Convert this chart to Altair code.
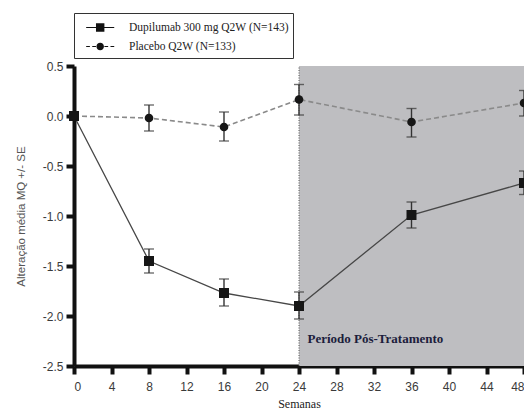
import altair as alt
import pandas as pd

weeks = [0, 8, 16, 24, 36, 48]
series_names = ["Dupilumab 300 mg Q2W (N=143)", "Placebo Q2W (N=133)"]
dupi_mean = [0.0, -1.45, -1.77, -1.90, -0.99, -0.67]
dupi_hi = [0.0, -1.33, -1.63, -1.76, -0.86, -0.55]
dupi_lo = [0.0, -1.57, -1.90, -2.03, -1.12, -0.785]
plac_mean = [0.0, -0.02, -0.11, 0.165, -0.06, 0.13]
plac_hi = [0.0, 0.11, 0.04, 0.315, 0.075, 0.255]
plac_lo = [0.0, -0.15, -0.25, 0.01, -0.21, 0.0]

post_start, post_end = 24, 48
y_min, y_max = -2.5, 0.5
x_ticks = list(range(0, 49, 4))
y_ticks = [-2.5, -2.0, -1.5, -1.0, -0.5, 0.0, 0.5]
x_title = "Semanas"
y_title = "Alteração média MQ +/- SE"
period_label = "Período Pós-Tratamento"
period_x, period_y = 24.9, -2.225

rows = []
for w, m, lo, hi in zip(weeks, dupi_mean, dupi_lo, dupi_hi):
    rows.append(dict(week=w, value=m, lo=lo, hi=hi, series=series_names[0]))
for w, m, lo, hi in zip(weeks, plac_mean, plac_lo, plac_hi):
    rows.append(dict(week=w, value=m, lo=lo, hi=hi, series=series_names[1]))
df = pd.DataFrame(rows)

xscale = alt.Scale(domain=[0, 48], nice=False, zero=False)
yscale = alt.Scale(domain=[y_min, y_max], nice=False, zero=False)

x_axis = alt.Axis(values=x_ticks, title=x_title, format="d", labelOverlap=False,
                  titleFont="Liberation Serif", titleFontSize=12,
                  titleFontWeight="normal", titleColor="#222",
                  titlePadding=6, labelPadding=7)
y_axis = alt.Axis(values=y_ticks, title=y_title, labelOverlap=False,
                  labelExpr="(datum.value < 0 ? '-' : '') + format(abs(datum.value), '.1f')",
                  titleFont="Liberation Sans Narrow, Liberation Sans", titleFontSize=11.5,
                  titleFontWeight="normal", titleColor="#555",
                  titlePadding=16, labelPadding=3)


def X(field):
    return alt.X(field, scale=xscale, axis=x_axis, title=x_title)


def Y(field):
    return alt.Y(field, scale=yscale, axis=y_axis, title=y_title)


base = alt.Chart(df)

region = alt.Chart(pd.DataFrame({"x": [post_start], "x2": [post_end],
                                 "y": [y_min], "y2": [y_max]})).mark_rect(
    color="#bebec1").encode(x=X("x:Q"), x2="x2:Q", y=Y("y:Q"), y2="y2:Q")

divider = alt.Chart(pd.DataFrame({"x": [post_start], "y": [y_min], "y2": [y_max]})).mark_rule(
    color="#555", strokeDash=[1, 1.5], strokeWidth=1).encode(
    x=X("x:Q"), y=Y("y:Q"), y2="y2:Q")

dupi = base.transform_filter(alt.datum.series == series_names[0])
plac = base.transform_filter(alt.datum.series == series_names[1])

dupi_line = dupi.mark_line(color="#474747", strokeWidth=1.3).encode(x=X("week:Q"), y=Y("value:Q"))
plac_line = plac.mark_line(color="#8a8a8a", strokeWidth=1.6, strokeDash=[5, 3]).encode(
    x=X("week:Q"), y=Y("value:Q"))

err = base.transform_filter(alt.datum.week > 0).mark_errorbar(
    ticks=alt.MarkConfig(size=10), thickness=1.4, color="#333").encode(
    x=X("week:Q"), y=Y("lo:Q"), y2="hi:Q")

dupi_pts = dupi.mark_point(shape="square", filled=True, size=100, color="#161616", opacity=1).encode(
    x=X("week:Q"), y=Y("value:Q"))
plac_pts = plac.mark_point(shape="circle", filled=True, size=75, color="#161616", opacity=1).encode(
    x=X("week:Q"), y=Y("value:Q"))

label = alt.Chart(pd.DataFrame({"x": [period_x], "y": [period_y], "t": [period_label]})).mark_text(
    align="left", baseline="middle", font="Liberation Serif", fontSize=13,
    fontWeight="bold", color="#1c1d3c").encode(x=X("x:Q"), y=Y("y:Q"), text="t:N")

# legend glyphs drawn as filled shapes (line as a thin bar, marker on top)
dupi_sym = "M-0.25,-0.065H2.75V0.065H-0.25Z M0.8,-0.45H1.7V0.45H0.8Z"
plac_sym = ("M-0.25,-0.065H0.15V0.065H-0.25Z M0.4,-0.065H0.8V0.065H0.4Z "
            "M1.7,-0.065H2.1V0.065H1.7Z M2.35,-0.065H2.75V0.065H2.35Z "
            "M1.65,0A0.4,0.4,0,1,1,0.85,0A0.4,0.4,0,1,1,1.65,0Z")

legend_layer = base.transform_filter("false").mark_point(
    filled=True, color="#111", opacity=1).encode(
    x=X("week:Q"), y=Y("value:Q"),
    shape=alt.Shape("series:N",
                    scale=alt.Scale(domain=series_names, range=[dupi_sym, plac_sym]),
                    legend=alt.Legend(orient="none", legendX=0, legendY=-53, title=None,
                                      strokeColor="#333", fillColor="white", padding=4,
                                      labelFont="Liberation Serif", labelFontSize=11.5,
                                      labelColor="#222", symbolSize=350, labelLimit=0,
                                      symbolFillColor="#111", labelOffset=30,
                                      rowPadding=1)))

chart = alt.layer(region, divider, dupi_line, plac_line, err, dupi_pts, plac_pts,
                  label, legend_layer).properties(
    width=450, height=300,
    autosize=alt.AutoSizeParams(type="none"),
    padding={"left": 66, "top": 58, "right": 0, "bottom": 44},
).configure_view(strokeWidth=0).configure_axis(
    grid=False, domainColor="#111", domainWidth=4, tickColor="#111",
    tickWidth=4, tickSize=8, labelFont="Liberation Sans", labelFontSize=12,
    labelColor="#3a3a3a")

chart.save("out.html", embed_options={"renderer": "svg", "actions": False})
